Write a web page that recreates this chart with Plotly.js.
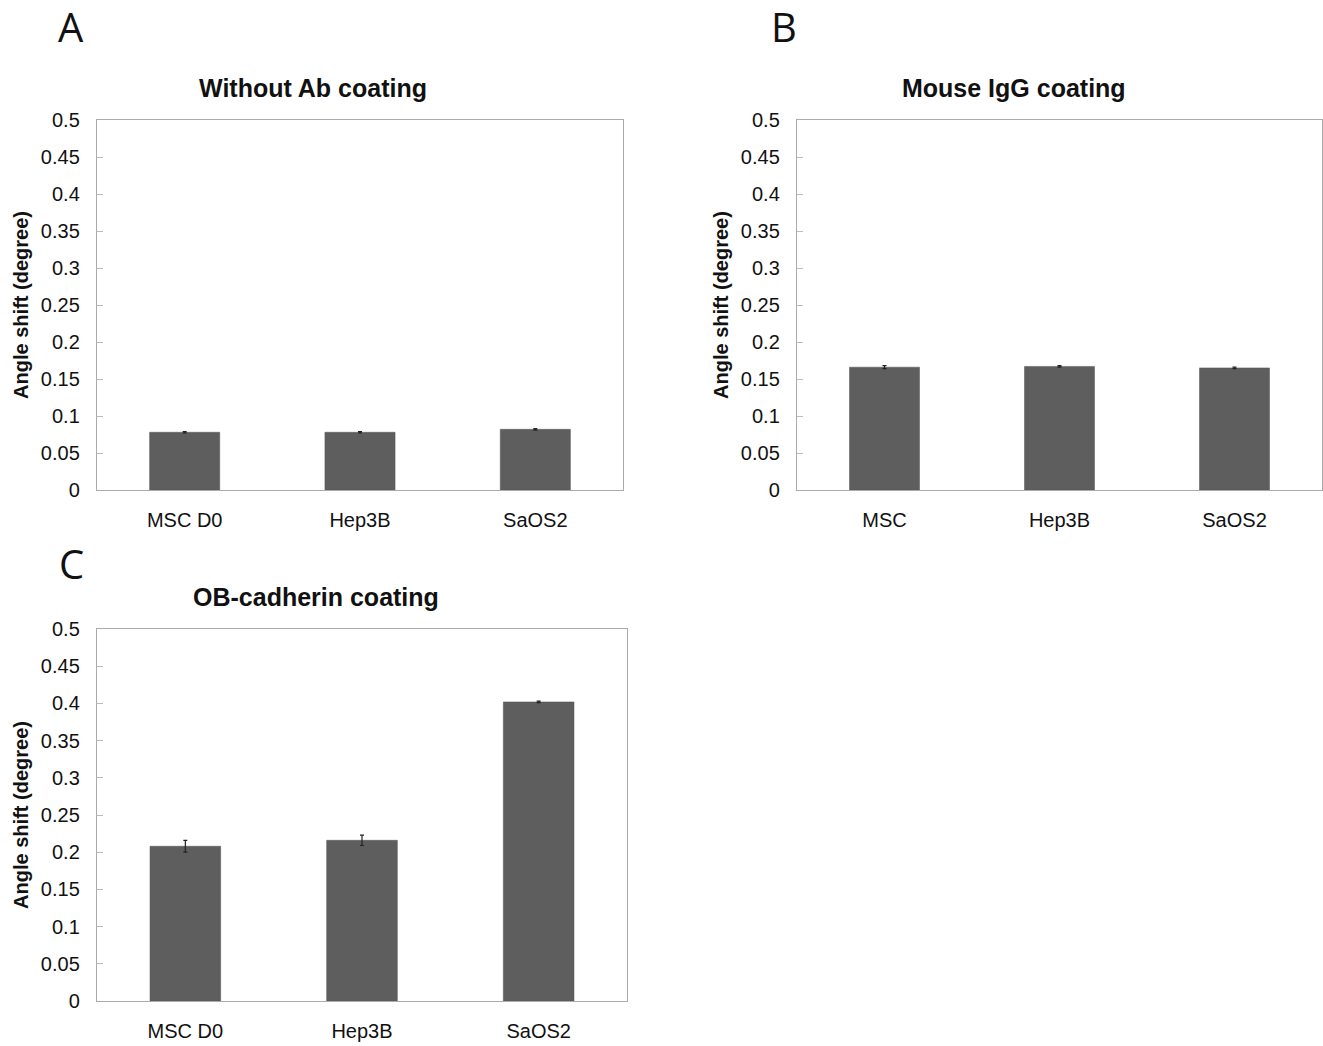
<!DOCTYPE html>
<html><head><meta charset="utf-8">
<script src="https://cdn.plot.ly/plotly-3.0.1.min.js"></script>
<style>body{margin:0;background:#fff}#chart{width:1323px;height:1046px}</style>
</head><body><div id="chart"></div>
<script>
const catsA = ["MSC D0", "Hep3B", "SaOS2"];
const valsA = [0.078, 0.078, 0.082];
const errA = [0.001, 0.001, 0.001];
const catsB = ["MSC", "Hep3B", "SaOS2"];
const valsB = [0.166, 0.167, 0.165];
const errB = [0.002, 0.001, 0.001];
const catsC = ["MSC D0", "Hep3B", "SaOS2"];
const valsC = [0.208, 0.216, 0.402];
const errC = [0.008, 0.007, 0.001];
const tickVals = [0, 0.05, 0.1, 0.15, 0.2, 0.25, 0.3, 0.35, 0.4, 0.45, 0.5];
const tickText = ["0", "0.05", "0.1", "0.15", "0.2", "0.25", "0.3", "0.35", "0.4", "0.45", "0.5"];
const titles = ["Without Ab coating", "Mouse IgG coating", "OB-cadherin coating"];
const panelLetters = ["A", "B", "C"];
const yTitle = "Angle shift (degree)";

const barColor = "#5e5e5e";
function bar(x, y, e, xa, ya) {
  return {type: "bar", x: x, y: y, xaxis: xa, yaxis: ya,
    marker: {color: barColor, line: {color: "#555", width: 0.5}},
    error_y: {type: "data", array: e, visible: true, color: "#222", thickness: 1.2, width: 2},
    hoverinfo: "skip", showlegend: false};
}
const data = [
  bar(catsA, valsA, errA, "x", "y"),
  bar(catsB, valsB, errB, "x2", "y2"),
  bar(catsC, valsC, errC, "x3", "y3")
];
const W = 1323, H = 1046;
const fam = "Liberation Sans, Arial, sans-serif";
const font = {family: fam, color: "#111", size: 20};
function xax(l, r, anchor) {
  return {domain: [l / W, r / W], anchor: anchor, showline: true, linecolor: "#ababab", linewidth: 1.2,
    mirror: true, ticks: "", showgrid: false, zeroline: false, fixedrange: true,
    tickfont: {family: fam, size: 20, color: "#111"}, ticklabelstandoff: 12};
}
function yax(t, b, anchor) {
  return {domain: [1 - b / H, 1 - t / H], anchor: anchor, range: [0, 0.5], showline: true, linecolor: "#ababab",
    linewidth: 1.2, mirror: true, ticks: "inside", ticklen: 6, tickcolor: "#bdbdbd", showgrid: false,
    zeroline: false, tickvals: tickVals, ticktext: tickText, fixedrange: true, ticklabelstandoff: 12,
    tickfont: {family: fam, size: 20, color: "#111"},
    title: {text: "<b>" + yTitle + "</b>", font: {family: fam, size: 20, color: "#111"}, standoff: 6}};
}
function ann(text, x, y, f) {
  return {text: text, x: x / W, y: 1 - y / H, xref: "paper", yref: "paper", showarrow: false, font: f, xanchor: "center", yanchor: "middle"};
}
const titleFont = {family: fam, size: 25, color: "#111"};
const letterFont = {family: "Open Sans, Noto Sans, sans-serif", size: 40, color: "#111"};
const layout = {
  width: W, height: H, margin: {l: 0, r: 0, t: 0, b: 0}, paper_bgcolor: "#fff", plot_bgcolor: "#fff",
  font: font, bargap: 0.6,
  xaxis: xax(97, 623, "y"), yaxis: yax(120, 490, "x"),
  xaxis2: xax(797, 1322, "y2"), yaxis2: yax(120, 490, "x2"),
  xaxis3: xax(97, 627, "y3"), yaxis3: yax(629, 1001, "x3"),
  annotations: [
    ann("<b>" + titles[0] + "</b>", 313, 88, titleFont),
    ann("<b>" + titles[1] + "</b>", 1014, 88, titleFont),
    ann("<b>" + titles[2] + "</b>", 316, 597, titleFont),
    ann(panelLetters[0], 71, 26, letterFont),
    ann(panelLetters[1], 784, 26, letterFont),
    ann(panelLetters[2], 71, 563, letterFont)
  ]
};
Plotly.newPlot("chart", data, layout, {displayModeBar: false, staticPlot: true});
</script></body></html>
